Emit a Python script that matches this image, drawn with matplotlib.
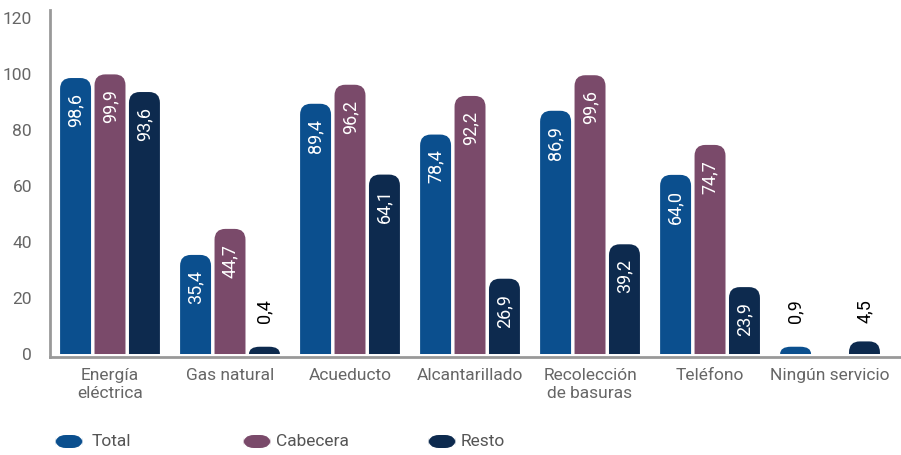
import numpy as np
import matplotlib
matplotlib.use("Agg")
import matplotlib.pyplot as plt
from matplotlib.path import Path
from matplotlib.patches import PathPatch, FancyBboxPatch

plt.rcParams['font.family'] = ['Roboto', 'DejaVu Sans']

# Servicios públicos por zona (%)
categories = ["Energía\neléctrica", "Gas natural", "Acueducto", "Alcantarillado",
              "Recolección\nde basuras", "Teléfono", "Ningún servicio"]
series = ["Total", "Cabecera", "Resto"]
total = [98.6, 35.4, 89.4, 78.4, 86.9, 64.0, 0.9]
cabecera = [99.9, 44.7, 96.2, 92.2, 99.6, 74.7, None]
resto = [93.6, 0.4, 64.1, 26.9, 39.2, 23.9, 4.5]
colors = ["#0b4f8e", "#7a4a6a", "#0d2a4e"]

fig = plt.figure(figsize=(9.01, 4.55), dpi=100)
ax = fig.add_axes([50 / 901, 0.2158, 850 / 901, 0.978 - 0.2158])
ax.set_xlim(-0.5, 6.583)
ax.set_ylim(-1.0, 122.9)

bar_w = 0.258
step = 0.287
rx, ry = 0.09, 3.9
min_h = 2.6


def rounded_bar(x, w, h):
    r = min(ry, h)
    verts = [(x, 0), (x, h - r), (x, h), (x + rx, h), (x + w - rx, h),
             (x + w, h), (x + w, h - r), (x + w, 0), (x, 0)]
    codes = [Path.MOVETO, Path.LINETO, Path.CURVE3, Path.CURVE3, Path.LINETO,
             Path.CURVE3, Path.CURVE3, Path.LINETO, Path.CLOSEPOLY]
    return Path(verts, codes)


def fmt(v):
    return f"{v:.1f}".replace(".", ",")


data = [total, cabecera, resto]
x = np.arange(len(categories))
for j, (vals, col) in enumerate(zip(data, colors)):
    for i, v in enumerate(vals):
        if v is None:
            continue
        left = x[i] + (j - 1) * step - bar_w / 2
        h = max(v, min_h)
        ax.add_patch(PathPatch(rounded_bar(left, bar_w, h), fc=col, ec="none"))
        xc = left + bar_w / 2
        if v > 15:
            ax.text(xc, h - 5.3, fmt(v), rotation=90, ha="center", va="top",
                    color="white", fontsize=13)
        else:
            ax.text(xc, 11, fmt(v), rotation=90, ha="center", va="bottom",
                    color="black", fontsize=13)

ax.set_yticks([0, 20, 40, 60, 80, 100, 120])
ax.set_xticks(x)
ax.set_xticklabels(categories, fontsize=12.5, color="#666666", linespacing=1.25)
ax.tick_params(axis="y", length=0, pad=13, labelsize=12.5, labelcolor="#666666")
ax.tick_params(axis="x", length=0, pad=8)
for s in ["top", "right"]:
    ax.spines[s].set_visible(False)
for s in ["left", "bottom"]:
    ax.spines[s].set_color("#999999")
    ax.spines[s].set_linewidth(2)

# leyenda inferior
legend_x = [55, 243, 428]
text_gap = [9, 5, 5]
for name, col, lx, g in zip(series, colors, legend_x, text_gap):
    fig.patches.append(FancyBboxPatch((lx / 901, (455 - 448) / 455), 28 / 901, 13 / 455,
                                      boxstyle="round,pad=0,rounding_size=0.012",
                                      mutation_aspect=1.9,
                                      transform=fig.transFigure, fc=col, ec="none"))
    fig.text((lx + 28 + g) / 901, (455 - 442) / 455, name, fontsize=12.5,
             color="#555555", va="center", ha="left")

fig.savefig("out.png", dpi=100)
